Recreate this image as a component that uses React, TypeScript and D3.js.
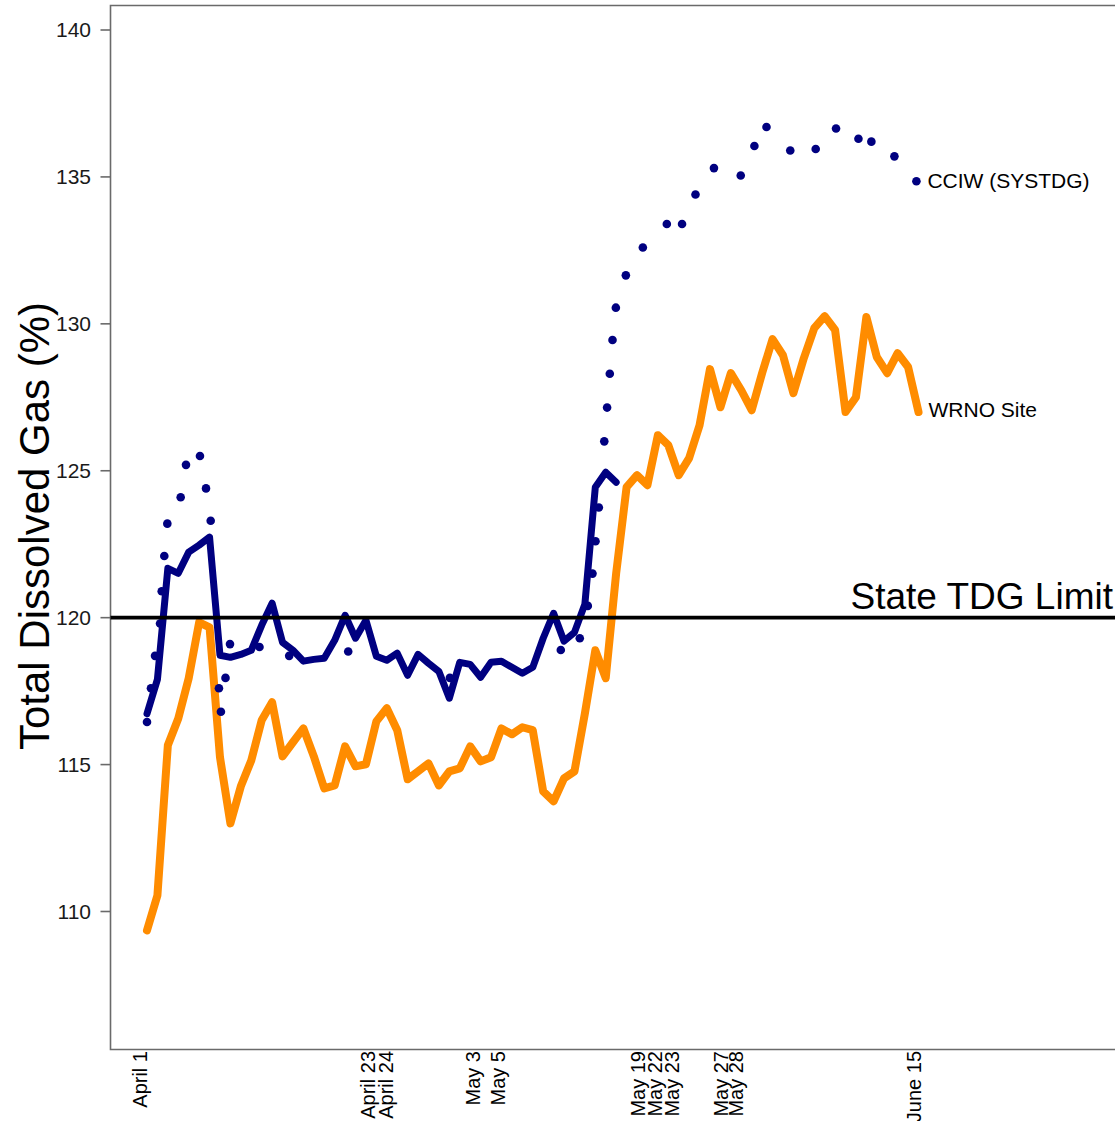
import React from 'react';
import * as d3 from 'd3';

// WRNO Site daily TDG (%), April 1 onward (index = day)
const wrnoValues = [
  109.36, 110.55, 115.66, 116.57, 117.94, 119.84, 119.67, 115.25, 113.0, 114.26,
  115.14, 116.51, 117.12, 115.28, 115.76, 116.23, 115.28, 114.19, 114.29, 115.62,
  114.94, 115.01, 116.47, 116.92, 116.17, 114.5, 114.77, 115.04, 114.29, 114.77,
  114.87, 115.62, 115.11, 115.25, 116.23, 116.03, 116.27, 116.17, 114.09, 113.75,
  114.53, 114.77, 116.74, 118.89, 117.94, 121.51, 124.44, 124.85, 124.51, 126.21,
  125.87, 124.85, 125.43, 126.55, 128.46, 127.16, 128.32, 127.74, 127.06, 128.32,
  129.48, 128.93, 127.64, 128.83, 129.85, 130.26, 129.79, 127.0, 127.5, 130.23,
  128.87, 128.32, 129.0, 128.53, 127.0,
];

// Unlabelled navy solid series (index = day)
const navyLineValues = [
  116.73, 117.9, 121.68, 121.51, 122.23, 122.47, 122.74, 118.72, 118.65, 118.75,
  118.89, 119.74, 120.49, 119.16, 118.89, 118.52, 118.58, 118.62, 119.23, 120.08,
  119.3, 119.91, 118.69, 118.55, 118.79, 118.04, 118.75, 118.45, 118.17, 117.26,
  118.48, 118.41, 117.97, 118.48, 118.52, 118.31, 118.11, 118.31, 119.3, 120.15,
  119.2, 119.5, 120.46, 124.44, 124.95, 124.61,
];

// CCIW (SYSTDG) observations: time (day index) and value
const cciwTimes = [
  0, 0.38, 0.77, 1.25, 1.41, 1.66, 1.95, 3.23, 3.74, 5.08,
  5.66, 6.11, 6.9, 7.09, 7.53, 7.96, 10.79, 13.64, 19.3, 29.05,
  39.69, 41.51, 42.28, 42.73, 43.02, 43.34, 43.86, 44.13, 44.39, 44.65,
  44.97, 45.93, 47.56, 49.86, 51.32, 52.61, 54.38, 56.95, 58.26, 59.42,
  61.7, 64.14, 66.09, 68.24, 69.48, 71.69, 73.8,
];
const cciwValues = [
  116.45, 117.6, 118.7, 119.8, 120.9, 122.1, 123.2, 124.1, 125.2, 125.5,
  124.4, 123.3, 117.6, 116.8, 117.95, 119.1, 119.0, 118.7, 118.85, 117.95,
  118.9, 119.3, 120.4, 121.5, 122.6, 123.75, 126.0, 127.15, 128.3, 129.45,
  130.55, 131.65, 132.6, 133.4, 133.4, 134.4, 135.3, 135.05, 136.05, 136.7,
  135.9, 135.95, 136.65, 136.3, 136.2, 135.7, 134.85,
];

const xTickPositions = [0, 21.9, 23.6, 31.9, 34.3, 47.8, 49.4, 51.0, 55.7, 57.2, 74.2];
const xTickLabels = [
  'April 1', 'April 23', 'April 24', 'May 3', 'May 5', 'May 19', 'May 22',
  'May 23', 'May 27', 'May 28', 'June 15',
];
const yTicks = [110, 115, 120, 125, 130, 135, 140];
const stateLimit = 120;

const FONT = '"Liberation Sans", Arial, Helvetica, sans-serif';

export default function App() {
  const W = 1115;
  const H = 1121;
  const frame = { left: 110.5, top: 5.5, bottom: 1049.5, right: 1120 };

  const x = d3.scaleLinear().domain([0, 74]).range([147, 918.5]);
  const y = d3.scaleLinear().domain([110, 140]).range([911.5, 30]);

  const line = d3
    .line<number>()
    .x((_, i) => x(i))
    .y((d) => y(d));

  const lastWrnoIdx = wrnoValues.length - 1;
  const lastCciwIdx = cciwTimes.length - 1;

  return (
    <svg
      width={W}
      height={H}
      style={{ position: 'absolute', left: 0, top: 0, background: '#fff' }}
      fontFamily={FONT}
    >
      <rect x={0} y={0} width={W} height={H} fill="#fff" />
      {/* frame */}
      <path
        d={`M${frame.right},${frame.top}H${frame.left}V${frame.bottom}H${frame.right}`}
        fill="none"
        stroke="#6a6a6a"
        strokeWidth={1.6}
      />
      {/* y ticks */}
      {yTicks.map((t) => (
        <g key={t}>
          <line x1={frame.left - 10} x2={frame.left} y1={y(t)} y2={y(t)} stroke="#6a6a6a" strokeWidth={1.6} />
          <text x={91} y={y(t) + 7} textAnchor="end" fontSize={21} fill="#1a1a1a">
            {t}
          </text>
        </g>
      ))}
      {/* y title */}
      <text
        transform={`translate(49, 526) rotate(-90)`}
        textAnchor="middle"
        fontSize={42}
        fill="#000"
      >
        Total Dissolved Gas (%)
      </text>
      {/* x tick labels */}
      {xTickPositions.map((p, i) => (
        <text
          key={xTickLabels[i]}
          transform={`translate(${x(p)}, 1051) rotate(-90)`}
          textAnchor="end"
          fontSize={20}
          fill="#000"
        >
          {xTickLabels[i]}
        </text>
      ))}
      {/* WRNO line */}
      <path
        d={line(wrnoValues) || ''}
        fill="none"
        stroke="#FF8C00"
        strokeWidth={8}
        strokeLinejoin="round"
        strokeLinecap="round"
      />
      {/* navy line */}
      <path
        d={line(navyLineValues) || ''}
        fill="none"
        stroke="#000080"
        strokeWidth={7}
        strokeLinejoin="round"
        strokeLinecap="round"
      />
      {/* CCIW dots */}
      {cciwTimes.map((t, i) => (
        <circle key={i} cx={x(t)} cy={y(cciwValues[i])} r={4.3} fill="#000080" />
      ))}
      {/* state limit */}
      <line x1={frame.left} x2={W} y1={y(stateLimit)} y2={y(stateLimit)} stroke="#000" strokeWidth={3.6} />
      <text x={1113} y={y(stateLimit) - 9} textAnchor="end" fontSize={37} fill="#000">
        State TDG Limit
      </text>
      {/* series labels */}
      <text x={x(cciwTimes[lastCciwIdx]) + 11} y={y(cciwValues[lastCciwIdx]) + 7} fontSize={21} fill="#000">
        CCIW (SYSTDG)
      </text>
      <text x={x(lastWrnoIdx) + 10} y={y(wrnoValues[lastWrnoIdx]) + 5} fontSize={21} fill="#000">
        WRNO Site
      </text>
    </svg>
  );
}
